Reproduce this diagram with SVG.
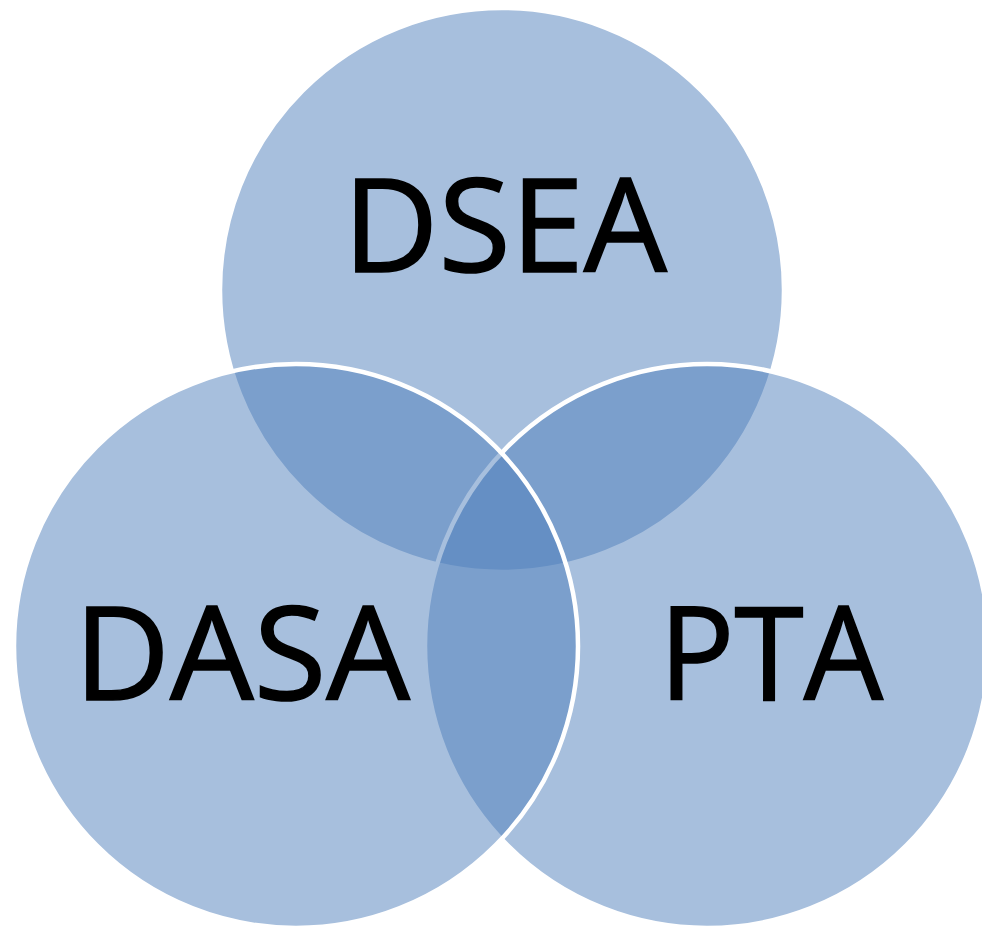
<svg xmlns="http://www.w3.org/2000/svg" width="982" height="930" viewBox="0 0 982 930">
<style>
.c{fill:#4F7FBB;fill-opacity:0.5;stroke:#FFFFFF;stroke-width:4.5}
.t{font-family:"Open Sans","Liberation Sans",sans-serif;font-size:130px;fill:#000000;stroke:#000000;stroke-width:1.6}
</style>
<rect width="982" height="930" fill="#FFFFFF"/>
<g id="dsea"><circle class="c" cx="502" cy="290" r="282"/></g>
<g id="pta"><circle class="c" cx="707" cy="646" r="282"/></g>
<g id="dasa"><circle class="c" cx="296" cy="646" r="282"/></g>
<g id="labels">
<text class="t" x="343" y="272" textLength="324" lengthAdjust="spacingAndGlyphs">DSEA</text>
<text class="t" x="74" y="700" textLength="336" lengthAdjust="spacingAndGlyphs">DASA</text>
<text class="t" x="659" y="700" textLength="224" lengthAdjust="spacingAndGlyphs">PTA</text>
</g>
</svg>
